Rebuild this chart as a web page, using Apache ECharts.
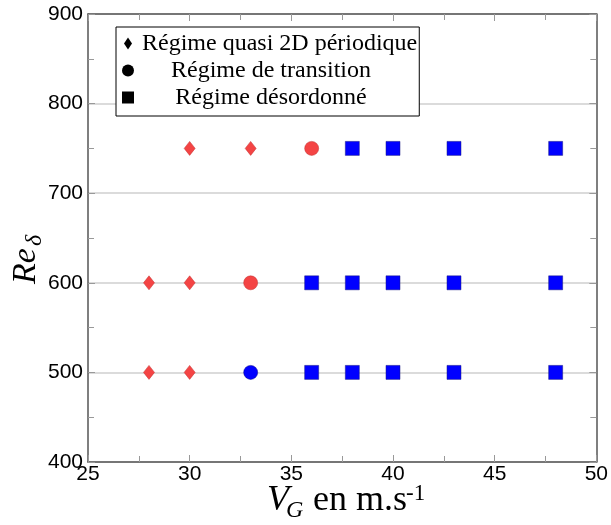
<!DOCTYPE html>
<html><head><meta charset="utf-8">
<script src="https://cdn.jsdelivr.net/npm/echarts@6/dist/echarts.min.js"></script>
<style>html,body{margin:0;padding:0;background:#fff}#c{width:611px;height:525px}</style>
</head><body><div id="c"></div>
<script>
// ---- data ----
const xTicks = [25, 30, 35, 40, 45, 50];
const yTicks = [400, 500, 600, 700, 800, 900];
const seriesNames = ['Régime quasi 2D périodique', 'Régime de transition', 'Régime désordonné'];
const quasiX = [30, 33, 28, 30, 28, 30];
const quasiY = [750, 750, 600, 600, 500, 500];
const transRedX = [36, 33];
const transRedY = [750, 600];
const transBlueX = [33];
const transBlueY = [500];
const desordX = [38, 40, 43, 48, 36, 38, 40, 43, 48, 36, 38, 40, 43, 48];
const desordY = [750, 750, 750, 750, 600, 600, 600, 600, 600, 500, 500, 500, 500, 500];

// ---- build ----
const pts = (xs, ys) => xs.map((x, i) => [x, ys[i]]);
const RED = '#f44444', BLUE = '#0000ff';
const SANS = '"Liberation Sans", Arial, sans-serif';
const SERIF = '"Liberation Serif", "Times New Roman", serif';

function axisBase(isX, show) {
  const ticks = isX ? xTicks : yTicks;
  return {
    type: 'value',
    min: ticks[0], max: ticks[ticks.length - 1], interval: ticks[1] - ticks[0],
    axisLine: { show: true, lineStyle: { color: '#555', width: 1.5 } },
    axisTick: { show: true, inside: true, length: 7, lineStyle: { color: '#999', width: 1 } },
    minorTick: { show: true, splitNumber: 2, length: 6, lineStyle: { color: '#999', width: 1 } },
    axisLabel: { show: show, color: '#000', fontFamily: SANS, fontSize: 21, margin: isX ? 2 : 5 },
    splitLine: { show: false }
  };
}

const xBottom = Object.assign(axisBase(true, true), { position: 'bottom' });
const xTop = Object.assign(axisBase(true, false), { position: 'top' });
const yLeft = Object.assign(axisBase(false, true), { position: 'left',
  splitLine: { show: true, lineStyle: { color: '#cfcfcf', width: 1.5 } } });
const yRight = Object.assign(axisBase(false, false), { position: 'right' });

const diamondIcon = 'path://M0,0M12,12M6,0L10,6L6,12L2,6Z';

const option = {
  animation: false,
  backgroundColor: '#fff',
  grid: { left: 88, right: 14, top: 14, bottom: 63 },
  xAxis: [xBottom, xTop],
  yAxis: [yLeft, yRight],
  legend: {
    orient: 'vertical', left: 116, top: 27,
    padding: [3, 2, 5, 6], itemGap: 0, itemWidth: 12, itemHeight: 12,
    borderColor: '#000', borderWidth: 1, backgroundColor: '#fff',
    data: [
      { name: seriesNames[0], icon: diamondIcon, itemStyle: { color: '#000', borderWidth: 0 } },
      { name: seriesNames[1], icon: 'circle', itemStyle: { color: '#000', borderWidth: 0 } },
      { name: seriesNames[2], icon: 'rect', itemStyle: { color: '#000', borderWidth: 0 } }
    ],
    formatter: n => n === seriesNames[0] ? '{a|' + n + '}' : '{b|' + n + '}',
    textStyle: {
      fontFamily: SERIF, fontSize: 24, color: '#000', lineHeight: 27,
      rich: {
        a: { fontFamily: SERIF, fontSize: 24, lineHeight: 27, color: '#000', padding: [0, 0, 0, 3] },
        b: { fontFamily: SERIF, fontSize: 24, lineHeight: 27, color: '#000', width: 264, align: 'center' }
      }
    }
  },
  series: [
    { name: seriesNames[0], type: 'scatter', symbol: 'diamond', symbolSize: [11, 14],
      data: pts(quasiX, quasiY), itemStyle: { color: RED, borderColor: '#c03030', borderWidth: 0.5, opacity: 1 } },
    { name: seriesNames[1], type: 'scatter', symbol: 'circle', symbolSize: 14,
      data: pts(transRedX, transRedY), itemStyle: { color: RED, borderColor: '#c03030', borderWidth: 0.5, opacity: 1 } },
    { name: seriesNames[1], type: 'scatter', symbol: 'circle', symbolSize: 14,
      data: pts(transBlueX, transBlueY), itemStyle: { color: BLUE, borderColor: '#00008a', borderWidth: 0.5, opacity: 1 } },
    { name: seriesNames[2], type: 'scatter', symbol: 'rect', symbolSize: 14,
      data: pts(desordX, desordY), itemStyle: { color: BLUE, borderColor: '#1a1a80', borderWidth: 0.5, opacity: 1 } }
  ],
  graphic: [
    // x title: V_G en m.s^-1
    { type: 'text', x: 0, y: 0, silent: true,
      style: { text: 'V', x: 267, y: 501, font: 'italic 36px ' + SERIF, fill: '#000', textAlign: 'left', textVerticalAlign: 'middle' } },
    { type: 'text', x: 0, y: 0, silent: true,
      style: { text: 'G', x: 286, y: 511, font: 'italic 24px ' + SERIF, fill: '#000', textAlign: 'left', textVerticalAlign: 'middle' } },
    { type: 'text', x: 0, y: 0, silent: true,
      style: { text: 'en m.s', x: 313, y: 501, font: '36px ' + SERIF, fill: '#000', textAlign: 'left', textVerticalAlign: 'middle' } },
    { type: 'text', x: 0, y: 0, silent: true,
      style: { text: '-1', x: 406, y: 494, font: '23px ' + SERIF, fill: '#000', textAlign: 'left', textVerticalAlign: 'middle' } },
    // y title: Re_δ (rotated)
    { type: 'text', x: 37, y: 284, rotation: Math.PI / 2, silent: true,
      style: { text: 'Re', x: 0, y: -11, font: 'italic 34px ' + SERIF, fill: '#000', textAlign: 'left', textVerticalAlign: 'middle' } },
    { type: 'text', x: 37, y: 284, rotation: Math.PI / 2, silent: true,
      style: { text: 'δ', x: 38, y: -2, font: 'italic 24px ' + SERIF, fill: '#000', textAlign: 'left', textVerticalAlign: 'middle' } }
  ]
};

const chart = echarts.init(document.getElementById('c'), null, { renderer: 'canvas' });
chart.setOption(option);
</script>
</body></html>
